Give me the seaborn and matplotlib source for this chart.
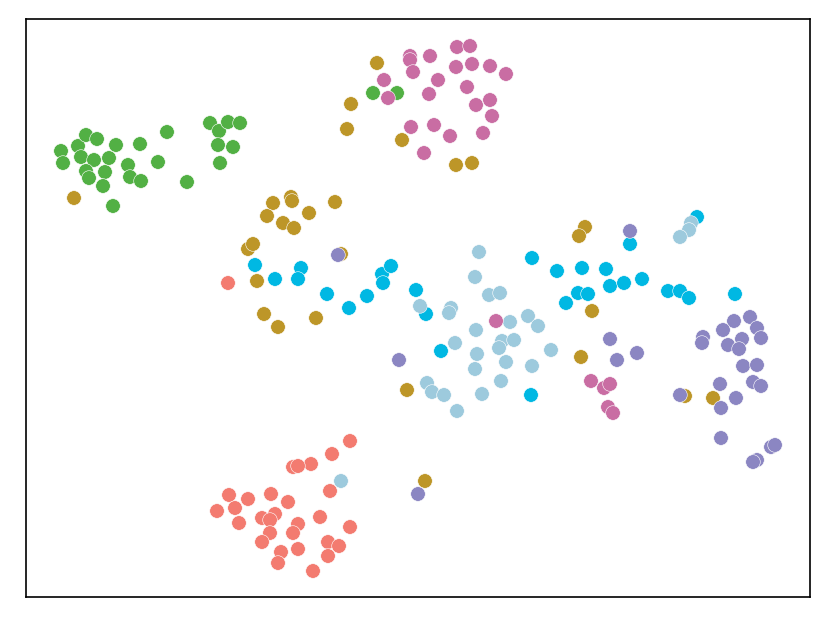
import pandas as pd
import seaborn as sns
import matplotlib.pyplot as plt

salmon_x = [350, 332, 311, 293, 298, 330, 229, 248, 271, 288, 235, 217, 262, 275, 270, 239,
            320, 298, 293, 270, 350, 262, 281, 298, 328, 339, 328, 278, 313, 228]
salmon_y = [441, 454, 464, 467, 466, 491, 495, 499, 494, 502, 508, 511, 518, 514, 520, 523,
            517, 524, 533, 533, 527, 542, 552, 549, 542, 546, 556, 563, 571, 283]

gold_x = [74, 377, 351, 347, 402, 456, 472, 273, 291, 292, 267, 283, 294, 309, 335, 248,
          253, 341, 257, 264, 278, 316, 407, 585, 579, 592, 581, 685, 713, 425]
gold_y = [198, 63, 104, 129, 140, 165, 163, 203, 197, 201, 216, 223, 228, 213, 202, 249,
          244, 254, 281, 314, 327, 318, 390, 227, 236, 311, 357, 396, 398, 481]

green_x = [61, 63, 78, 81, 86, 97, 94, 86, 89, 105, 103, 109, 116, 128, 130, 141, 140, 158,
           167, 187, 113, 210, 219, 228, 240, 218, 233, 220, 373, 397]
green_y = [151, 163, 146, 157, 135, 139, 160, 171, 178, 172, 186, 158, 145, 165, 177, 181,
           144, 162, 132, 182, 206, 123, 131, 122, 123, 145, 147, 163, 93, 93]

cyan_x = [255, 275, 301, 298, 327, 349, 367, 382, 391, 383, 416, 426, 441, 531, 532, 557,
          582, 606, 610, 578, 588, 566, 624, 642, 668, 680, 689, 735, 630, 697]
cyan_y = [265, 279, 268, 279, 294, 308, 296, 274, 266, 283, 290, 314, 351, 395, 258, 271,
          268, 269, 286, 293, 294, 303, 283, 279, 291, 291, 298, 294, 244, 217]

lblue_x = [479, 475, 489, 500, 420, 451, 449, 510, 528, 538, 476, 502, 514, 499, 455, 477,
           551, 506, 475, 532, 427, 432, 444, 501, 482, 457, 691, 689, 680, 341]
lblue_y = [252, 277, 295, 293, 306, 308, 313, 322, 316, 326, 330, 341, 340, 348, 343, 354,
           350, 362, 369, 366, 383, 392, 395, 381, 394, 411, 223, 230, 237, 481]

pink_x = [410, 410, 430, 457, 470, 413, 456, 472, 490, 506, 384, 438, 467, 429, 388, 490,
          476, 492, 411, 434, 450, 483, 424, 496, 591, 604, 610, 608, 613]
pink_y = [56, 60, 56, 47, 46, 72, 67, 64, 66, 74, 80, 80, 87, 94, 98, 100,
          105, 116, 127, 125, 136, 133, 153, 321, 381, 388, 384, 407, 413]

purple_x = [338, 399, 630, 750, 734, 723, 757, 761, 742, 728, 739, 703, 702, 610, 637, 617,
            743, 757, 753, 761, 720, 736, 680, 721, 721, 757, 753, 771, 775, 418]
purple_y = [255, 360, 231, 317, 321, 330, 328, 338, 339, 345, 349, 337, 343, 339, 353, 360,
            366, 365, 382, 386, 384, 398, 395, 408, 438, 460, 462, 447, 445, 494]

groups = {
    "salmon": (salmon_x, salmon_y),
    "gold": (gold_x, gold_y),
    "green": (green_x, green_y),
    "cyan": (cyan_x, cyan_y),
    "lightblue": (lblue_x, lblue_y),
    "pink": (pink_x, pink_y),
    "purple": (purple_x, purple_y),
}
palette = {
    "salmon": "#f37b70",
    "gold": "#bd9628",
    "green": "#52b044",
    "cyan": "#00b8e3",
    "lightblue": "#9dcadd",
    "pink": "#c96da3",
    "purple": "#8b86c2",
}

frames = []
for name, (xs, ys) in groups.items():
    frames.append(pd.DataFrame({"x": xs, "y": ys, "group": name}))
df = pd.concat(frames, ignore_index=True)

fig, ax = plt.subplots(figsize=(8.3, 6.23), dpi=100)
sns.scatterplot(data=df, x="x", y="y", hue="group", palette=palette,
                s=110, edgecolor="white", linewidth=0.4, legend=False, ax=ax)

ax.set_xlim(26, 810)
ax.set_ylim(597, 19)
ax.set_xticks([])
ax.set_yticks([])
ax.set_xlabel("")
ax.set_ylabel("")
for sp in ax.spines.values():
    sp.set_linewidth(1.2)
    sp.set_color("black")

fig.subplots_adjust(left=26 / 830, right=810 / 830, bottom=1 - 597 / 623, top=1 - 19 / 623)
fig.savefig("out.png", dpi=100)
